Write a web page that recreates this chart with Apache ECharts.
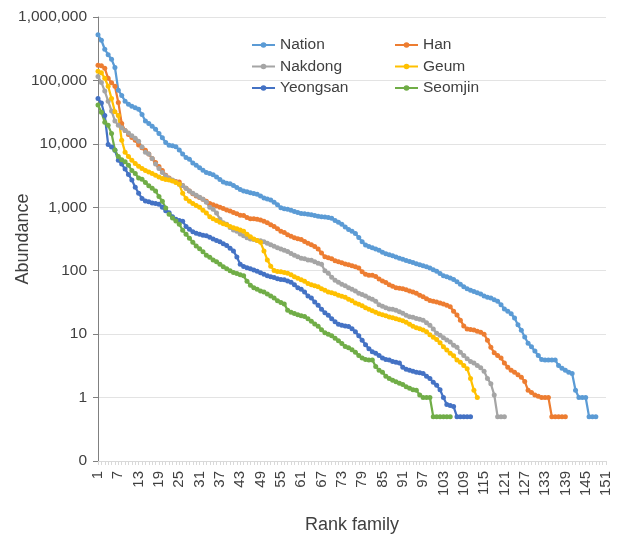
<!DOCTYPE html>
<html>
<head>
<meta charset="utf-8">
<title>Rank abundance by family</title>
<script src="https://cdn.jsdelivr.net/npm/echarts@6/dist/echarts.min.js"></script>
<style>
  html, body { margin: 0; padding: 0; background: #fff; }
  #chart { width: 628px; height: 535px; }
</style>
</head>
<body>
<div id="chart"></div>
<script>
// Rank positions along the x axis (families ranked by abundance)
const rankCount = 151;
const ranks = Array.from({ length: rankCount }, (_, i) => String(i + 1));

// Log-scale abundance axis bounds and ticks
const abundanceTicks = [0.1, 1, 10, 100, 1000, 10000, 100000, 1000000];

// Abundance per rank for each region
const nation = [
  525000, 430000, 310000, 255000, 215000, 160000, 70000, 58000, 47000, 42000,
  39000, 37000, 35000, 29000, 23000, 21000, 19000, 17000, 14500, 12500,
  10500, 9500, 9300, 9000, 8000, 6900, 6100, 5700, 5000, 4600,
  4200, 3850, 3550, 3400, 3250, 3000, 2750, 2500, 2400, 2350,
  2200, 2050, 1900, 1800, 1750, 1700, 1650, 1600, 1500, 1400,
  1350, 1300, 1200, 1100, 980, 950, 930, 900, 860, 830,
  800, 790, 780, 760, 740, 720, 710, 700, 690, 670,
  620, 580, 540, 490, 445, 420, 385, 335, 285, 255,
  240, 230, 220, 210, 195, 185, 178, 172, 165, 157,
  151, 145, 140, 135, 129, 124, 120, 116, 110, 104,
  98, 90, 83, 80, 77, 73, 67, 61, 56, 52,
  49, 47, 45, 43, 40, 38, 37, 35, 33, 29,
  25, 23, 21, 18, 14, 11.5, 9, 7.2, 6.3, 5.4,
  4.6, 4, 3.9, 3.9, 3.9, 3.9, 3.2, 2.9, 2.7, 2.5,
  2.4, 1.3, 1, 1, 1, 0.5, 0.5, 0.5
];
const han = [
  174000, 170000, 155000, 108000, 92000, 81000, 45000, 21000, 16300, 14000,
  12600, 11400, 9600, 8700, 7900, 6900, 5900, 5100, 4400, 3800,
  3200, 2900, 2650, 2550, 2500, 2200, 2000, 1800, 1630, 1500,
  1430, 1340, 1240, 1150, 1100, 1050, 1000, 960, 910, 870,
  830, 790, 750, 740, 690, 660, 660, 650, 630, 600,
  570, 530, 500, 460, 420, 400, 370, 350, 330, 320,
  310, 290, 270, 257, 240, 220, 190, 166, 160, 155,
  144, 138, 133, 128, 124, 120, 115, 110, 96, 88,
  85, 85, 81, 74, 69, 65, 60, 57, 54, 53,
  52, 50, 48, 46, 44, 41, 39, 36, 34, 33,
  32, 31, 30, 28.5, 27, 23, 20, 16.6, 13.5, 12.1,
  11.8, 11.6, 11.1, 10.7, 10, 8, 6.2, 5.1, 4.6, 4.2,
  3.5, 3, 2.7, 2.5, 2.3, 2.1, 1.8, 1.3, 1.2, 1.1,
  1.05, 1, 1, 1, 0.5, 0.5, 0.5, 0.5, 0.5
];
const nakdong = [
  115000, 93000, 68000, 47000, 33000, 23000, 19600, 18000, 16300, 14800,
  13400, 12300, 11000, 8900, 7400, 6900, 5900, 4800, 4100, 3550,
  3150, 2850, 2700, 2500, 2300, 2200, 2000, 1800, 1660, 1550,
  1440, 1340, 1200, 1000, 930, 810, 650, 570, 540, 480,
  440, 420, 380, 355, 330, 317, 310, 300, 296, 285,
  270, 257, 243, 230, 220, 210, 200, 186, 175, 166,
  157, 154, 148, 146, 138, 131, 126, 100, 91, 79,
  71, 66, 61, 58, 54, 51, 48, 44, 42, 40,
  37, 35.5, 33, 29, 27.5, 26, 25, 24.6, 23.7, 22.5,
  21.3, 19.9, 18.8, 18.4, 17.6, 17.1, 16.6, 15.1, 13.8, 12,
  10.3, 9.6, 8.8, 8.1, 7.5, 6.7, 6.2, 5.2, 4.6, 4.1,
  3.7, 3.5, 3.2, 2.95, 2.6, 2, 1.65, 1.1, 0.5, 0.5,
  0.5
];
const geum = [
  139000, 132000, 108000, 81000, 52000, 32000, 28000, 11400, 7400, 6300,
  5500, 4900, 4450, 4100, 3800, 3600, 3400, 3200, 3000, 2850,
  2750, 2700, 2600, 2470, 2300, 1660, 1380, 1240, 1150, 1070,
  1000, 900, 810, 710, 660, 620, 580, 550, 530, 500,
  475, 460, 440, 420, 376, 343, 317, 300, 280, 205,
  148, 118, 101, 97, 96, 94, 91, 86, 80, 76,
  72, 68, 63, 60, 58, 56, 52, 49, 46, 45,
  43.5, 41, 39.5, 38, 35.5, 33.5, 31, 29.5, 28, 26,
  24.6, 23.3, 22.1, 21, 20.2, 19.5, 18.7, 18.1, 17.5, 16.8,
  16.2, 15.4, 14.3, 13.3, 12.6, 12.2, 11.6, 10.9, 9.8, 8.9,
  8.2, 7.3, 6.3, 5.6, 5, 4.55, 3.9, 3.6, 3.2, 2.85,
  2, 1.3, 1
];
const yeongsan = [
  52000, 44000, 28000, 9800, 8900, 7900, 5500, 4800, 4000, 3300,
  2700, 2070, 1660, 1380, 1260, 1220, 1170, 1150, 1120, 1000,
  880, 820, 710, 650, 620, 600, 500, 450, 410, 390,
  376, 363, 356, 336, 317, 300, 286, 266, 250, 226,
  205, 165, 126, 117, 111, 107, 103, 98, 93, 88,
  83, 80, 78, 75, 73, 72, 69, 66, 60, 54,
  51, 46, 40, 37, 32, 28.5, 24.6, 21.7, 19.9, 17.5,
  15.7, 14.3, 13.8, 13.5, 13.2, 12.2, 10.9, 9.4, 8, 6.8,
  5.9, 5.3, 5, 4.6, 4.2, 4, 3.9, 3.7, 3.6, 3.5,
  3, 2.8, 2.7, 2.6, 2.5, 2.46, 2.4, 2.17, 2, 1.74,
  1.56, 1.33, 1, 0.78, 0.75, 0.72, 0.5, 0.5, 0.5, 0.5,
  0.5
];
const seomjin = [
  41000, 31600, 22000, 19600, 14500, 8000, 6300, 5600, 5200, 4600,
  3800, 3400, 2900, 2760, 2460, 2180, 2000, 1800, 1480, 1240,
  970, 780, 680, 610, 540, 435, 376, 324, 280, 246,
  222, 199, 175, 163, 148, 138, 126, 115, 107, 100,
  94, 90, 86, 83, 68, 59, 54, 51, 48, 46,
  43, 40, 37, 33.6, 31.6, 30, 23.8, 22.1, 21.1, 20.2,
  19.5, 18.9, 17.5, 15.9, 14.5, 13.3, 11.7, 10.5, 10, 9.4,
  8.6, 7.9, 7.1, 6.4, 6.1, 5.7, 5.2, 4.6, 4.2, 4,
  3.9, 3.9, 3.1, 2.7, 2.5, 2.17, 2, 1.87, 1.77, 1.68,
  1.6, 1.48, 1.4, 1.33, 1.3, 1.1, 1, 1, 1, 0.5,
  0.5, 0.5, 0.5, 0.5, 0.5
];

const regionNames = ['Nation', 'Han', 'Nakdong', 'Geum', 'Yeongsan', 'Seomjin'];
const regionValues = [nation, han, nakdong, geum, yeongsan, seomjin];
const regionColors = ['#5B9BD5', '#ED7D31', '#A5A5A5', '#FFC000', '#4472C4', '#70AD47'];

const fontFamily = '"Liberation Sans", Arial, Helvetica, sans-serif';
const textColor = '#404040';

const chart = echarts.init(document.getElementById('chart'), null, { renderer: 'canvas' });

const legendText = { fontSize: 15.5, color: textColor, fontFamily: fontFamily };
const legendCommon = {
  orient: 'vertical',
  top: 37,
  padding: 0,
  itemWidth: 23,
  itemHeight: 7,
  itemGap: 5.5,
  textStyle: legendText
};

chart.setOption({
  animation: false,
  backgroundColor: '#ffffff',
  textStyle: { fontFamily: fontFamily },
  grid: { left: 98, right: 22, top: 17, bottom: 74, containLabel: false, outerBoundsMode: 'none' },
  legend: [
    Object.assign({ data: ['Nation', 'Nakdong', 'Yeongsan'], left: 251 }, legendCommon),
    Object.assign({ data: ['Han', 'Geum', 'Seomjin'], left: 394 }, legendCommon)
  ],
  xAxis: {
    type: 'category',
    data: ranks,
    boundaryGap: false,
    name: 'Rank family',
    nameLocation: 'middle',
    nameGap: 55,
    nameMoveOverlap: false,
    nameTextStyle: { fontSize: 18, color: textColor, fontFamily: fontFamily },
    axisLine: { show: true, lineStyle: { color: '#d9d9d9', width: 1 } },
    axisTick: { show: true, interval: 0, length: 4, lineStyle: { color: '#d9d9d9' } },
    axisLabel: {
      interval: 5,
      rotate: 90,
      margin: 10,
      fontSize: 15,
      color: textColor,
      fontFamily: fontFamily
    },
    splitLine: { show: false }
  },
  yAxis: {
    type: 'log',
    logBase: 10,
    min: abundanceTicks[0],
    max: abundanceTicks[abundanceTicks.length - 1],
    name: 'Abundance',
    nameLocation: 'middle',
    nameGap: 66,
    nameMoveOverlap: false,
    nameTextStyle: { fontSize: 18, color: textColor, fontFamily: fontFamily },
    axisLine: { show: true, lineStyle: { color: '#808080', width: 1 } },
    axisTick: { show: true, length: 5, lineStyle: { color: '#808080' } },
    axisLabel: {
      margin: 11,
      fontSize: 15.5,
      color: textColor,
      fontFamily: fontFamily,
      formatter: function (v) {
        if (v < 1) return '0';
        return Math.round(v).toLocaleString('en-US');
      }
    },
    splitLine: { show: true, lineStyle: { color: '#e3e3e3', width: 1 } }
  },
  series: regionNames.map(function (name, i) {
    return {
      name: name,
      type: 'line',
      data: regionValues[i],
      symbol: 'circle',
      symbolSize: 5,
      showAllSymbol: true,
      lineStyle: { width: 2.25, color: regionColors[i] },
      itemStyle: { color: regionColors[i], borderWidth: 0 },
      emphasis: { disabled: true }
    };
  })
});
</script>
</body>
</html>
